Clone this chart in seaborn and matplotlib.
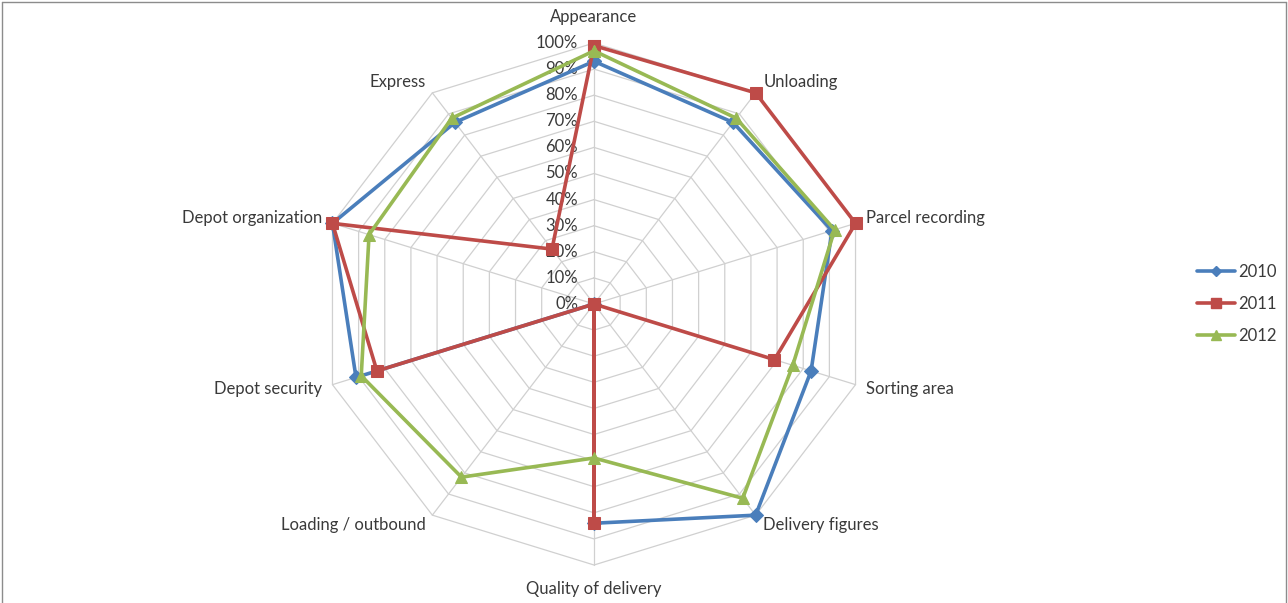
import numpy as np
import pandas as pd
import matplotlib
matplotlib.use("Agg")
import matplotlib.pyplot as plt
from matplotlib.lines import Line2D
import seaborn as sns

categories = ["Appearance", "Unloading", "Parcel recording", "Sorting area",
              "Delivery figures", "Quality of delivery", "Loading / outbound",
              "Depot security", "Depot organization", "Express"]
years = ["2010", "2011", "2012"]
values_2010 = [93, 86, 91, 83, 100, 84, 0, 91, 100, 86]
values_2011 = [99, 100, 100, 69, 0, 84, 0, 83, 100, 26]
values_2012 = [97, 88, 92, 76, 92, 59, 82, 89, 86, 88]
radial_ticks = [0, 10, 20, 30, 40, 50, 60, 70, 80, 90, 100]
radial_labels = [f"{t}%" for t in radial_ticks]

colors = {"2010": "#4A7EBB", "2011": "#BE4B48", "2012": "#98B954"}
markers = {"2010": "D", "2011": "s", "2012": "^"}
msizes = {"2010": 7, "2011": 8.5, "2012": 9}

sns.set_theme(style="white")
plt.rcParams["font.family"] = ["Lato", "DejaVu Sans"]
txt_color = "#3A3A3A"
fs = 12

W, H = 1288, 603
fig = plt.figure(figsize=(W / 100, H / 100), dpi=100)
cx, cy, Rx, Ry = 594, 304, 275, 261
ax = fig.add_axes([(cx - Rx) / W, (H - cy - Ry) / H, 2 * Rx / W, 2 * Ry / H])
ax.set_xlim(-1, 1)
ax.set_ylim(-1, 1)
ax.set_axis_off()

n = len(categories)
theta = np.arange(n) * 2 * np.pi / n
sx, sy = np.sin(theta), np.cos(theta)

grid_c = "#D0D0D0"
# polygon gridlines
for t in radial_ticks[1:]:
    r = t / 100
    ax.plot(np.append(sx, sx[0]) * r, np.append(sy, sy[0]) * r, color=grid_c,
            lw=0.9, zorder=1, clip_on=False)
# spokes
for i in range(n):
    ax.plot([0, sx[i]], [0, sy[i]], color=grid_c, lw=0.9, zorder=1, clip_on=False)

# series
series = {"2010": values_2010, "2011": values_2011, "2012": values_2012}
rows = []
for y in years:
    vals = series[y]
    for k in list(range(n)) + [0]:
        r = vals[k] / 100
        rows.append({"year": y, "order": len(rows), "x": sx[k] * r, "y": sy[k] * r})
df = pd.DataFrame(rows)

for z, y in enumerate(years):
    d = df[df["year"] == y]
    sns.lineplot(data=d, x="x", y="y", sort=False, estimator=None, ax=ax,
                 color=colors[y], lw=2.6, marker=markers[y], markersize=msizes[y],
                 markeredgecolor=colors[y], markerfacecolor=colors[y],
                 zorder=3 + z, clip_on=False, legend=False)

# category labels
offsets = {
    0: (0, 26, "center", "center"),
    1: (8, 11, "left", "center"),
    2: (10, 5, "left", "center"),
    3: (10, -4, "left", "center"),
    4: (7, -10, "left", "center"),
    5: (0, -24, "center", "center"),
    6: (-7, -10, "right", "center"),
    7: (-10, -4, "right", "center"),
    8: (-10, 5, "right", "center"),
    9: (-7, 11, "right", "center"),
}
for i, c in enumerate(categories):
    dx, dy, ha, va = offsets[i]
    ax.annotate(c, xy=(sx[i], sy[i]), xytext=(dx, dy), textcoords="offset pixels",
                ha=ha, va=va, fontsize=fs, color=txt_color, annotation_clip=False)

# radial tick labels
for t, lab in zip(radial_ticks, radial_labels):
    ax.annotate(lab, xy=(0, t / 100), xytext=(-16, 0), textcoords="offset pixels",
                ha="right", va="center", fontsize=fs, color=txt_color,
                annotation_clip=False, zorder=2)

# legend
handles = [Line2D([0], [0], color=colors[y], lw=2.6, marker=markers[y],
                  markersize=msizes[y] - 1.5, markerfacecolor=colors[y],
                  markeredgecolor=colors[y]) for y in years]
fig.legend(handles, years, loc="center left", bbox_to_anchor=(1182 / W, 1 - 304 / H),
           frameon=False, fontsize=fs, handlelength=2.3, handletextpad=0.2,
           labelspacing=0.95, labelcolor=txt_color)

# chart border
border_c = "#8C8C8C"
fig.add_artist(Line2D([1.5 / W, 1.5 / W], [0, 1 - 1.5 / H], color=border_c, lw=1))
fig.add_artist(Line2D([1.5 / W, 1 - 2 / W], [1 - 1.5 / H, 1 - 1.5 / H], color=border_c, lw=1))
fig.add_artist(Line2D([1 - 2 / W, 1 - 2 / W], [0, 1 - 1.5 / H], color=border_c, lw=1))

fig.savefig("out.png", dpi=100, facecolor="white")
